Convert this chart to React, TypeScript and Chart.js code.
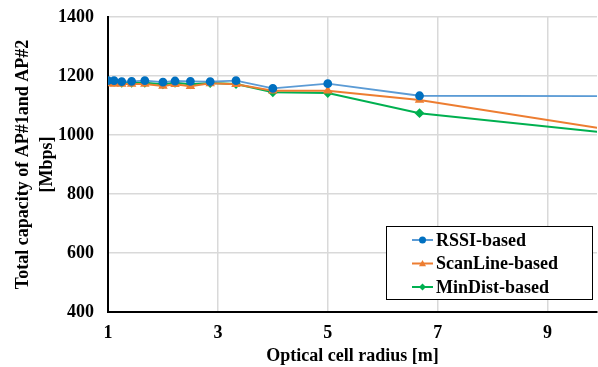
import React, { useEffect, useRef } from "react";
import { Chart, registerables } from "chart.js";

Chart.register(...registerables);

const radii = [1, 1.11, 1.25, 1.43, 1.67, 2, 2.22, 2.5, 2.86, 3.33, 4, 5, 6.67, 10];
const rssi = [1184, 1184, 1181, 1182, 1184, 1179, 1183, 1182, 1181, 1184, 1158, 1174, 1133, 1132];
const scanLine = [1175, 1173, 1173, 1173, 1173, 1166, 1172, 1165, 1175, 1172, 1150, 1150, 1119, 1022];
const minDist = [1182, 1180, 1177, 1177, 1177, 1172, 1177, 1172, 1176, 1173, 1145, 1142, 1074, 1009];
const xTicks = [1, 3, 5, 7, 9];
const seriesNames = ["RSSI-based", "ScanLine-based", "MinDist-based"];

const FONT = "'Liberation Serif', 'Times New Roman', serif";

const legendBox = {
  id: "legendBox",
  afterDraw(chart: any) {
    const { ctx, chartArea } = chart;
    const x0 = chartArea.right - 211;
    const y0 = chartArea.bottom - 86;
    const w = 206;
    const h = 73;
    ctx.save();
    ctx.fillStyle = "#ffffff";
    ctx.fillRect(x0, y0, w, h);
    ctx.strokeStyle = "#000000";
    ctx.lineWidth = 1;
    ctx.strokeRect(x0 + 0.5, y0 + 0.5, w, h);
    chart.data.datasets.forEach((ds: any, i: number) => {
      const cy = y0 + 14 + i * 23.5;
      const lx1 = x0 + 26;
      const lx2 = x0 + 47;
      ctx.strokeStyle = ds.borderColor;
      ctx.lineWidth = 2;
      ctx.beginPath();
      ctx.moveTo(lx1, cy);
      ctx.lineTo(lx2, cy);
      ctx.stroke();
      const mx = (lx1 + lx2) / 2;
      ctx.fillStyle = ds.pointBackgroundColor;
      ctx.beginPath();
      const r = 3.5;
      if (ds.pointStyle === "circle") {
        ctx.arc(mx, cy, r, 0, Math.PI * 2);
      } else if (ds.pointStyle === "triangle") {
        ctx.moveTo(mx, cy - r);
        ctx.lineTo(mx + r, cy + r * 0.8);
        ctx.lineTo(mx - r, cy + r * 0.8);
        ctx.closePath();
      } else {
        ctx.moveTo(mx, cy - r);
        ctx.lineTo(mx + r, cy);
        ctx.lineTo(mx, cy + r);
        ctx.lineTo(mx - r, cy);
        ctx.closePath();
      }
      ctx.fill();
      ctx.fillStyle = "#000000";
      ctx.font = "bold 18px " + FONT;
      ctx.textBaseline = "middle";
      ctx.textAlign = "left";
      ctx.fillText(ds.label, x0 + 50, cy + 1);
    });
    ctx.restore();
  },
};

export default function App() {
  const ref = useRef<HTMLCanvasElement | null>(null);
  useEffect(() => {
    if (!ref.current) return;
    const mk = (vals: number[]) => radii.map((x, i) => ({ x, y: vals[i] }));
    const chart = new Chart(ref.current, {
      type: "line",
      data: {
        datasets: [
          {
            label: seriesNames[0],
            data: mk(rssi),
            borderColor: "#5B9BD5",
            backgroundColor: "#0070C0",
            pointBackgroundColor: "#0070C0",
            pointBorderColor: "#0070C0",
            pointStyle: "circle",
            pointRadius: 3.5,
            borderWidth: 1.8,
          },
          {
            label: seriesNames[1],
            data: mk(scanLine),
            borderColor: "#ED7D31",
            backgroundColor: "#ED7D31",
            pointBackgroundColor: "#ED7D31",
            pointBorderColor: "#ED7D31",
            pointStyle: "triangle",
            pointRadius: 3.5,
            borderWidth: 2,
          },
          {
            label: seriesNames[2],
            data: mk(minDist),
            borderColor: "#00B050",
            backgroundColor: "#00B050",
            pointBackgroundColor: "#00B050",
            pointBorderColor: "#00B050",
            pointStyle: "rectRot",
            pointRadius: 3.5,
            borderWidth: 2,
          },
        ],
      },
      options: {
        animation: false,
        responsive: false,
        maintainAspectRatio: false,
        layout: { autoPadding: false, padding: { top: 17, right: 1, left: 0, bottom: 0 } },
        plugins: { legend: { display: false }, tooltip: { enabled: false } },
        scales: {
          x: {
            type: "linear",
            min: 1,
            max: 9.9,
            afterFit: (s: any) => {
              s.height = 55;
              s.paddingLeft = 0;
              s.paddingRight = 0;
            },
            afterBuildTicks: (s: any) => {
              s.ticks = xTicks.map((v) => ({ value: v }));
            },
            grid: { color: "#d9d9d9", lineWidth: 1.5, drawTicks: false },
            border: { color: "#000000", width: 2 },
            ticks: {
              color: "#000000",
              padding: 11,
              font: { family: FONT, size: 18, weight: "bold" },
              maxRotation: 0,
              callback: (v: any) => String(v),
            },
            title: {
              display: true,
              text: "Optical cell radius [m]",
              color: "#000000",
              padding: { top: -3, bottom: 0 },
              font: { family: FONT, size: 18, weight: "bold" },
            },
          },
          y: {
            min: 400,
            max: 1400,
            afterFit: (s: any) => {
              s.width = 108;
              s.paddingTop = 0;
              s.paddingBottom = 0;
            },
            grid: { color: "#d9d9d9", lineWidth: 1.5, drawTicks: false },
            border: { color: "#000000", width: 2 },
            ticks: {
              stepSize: 200,
              color: "#000000",
              padding: 14,
              font: { family: FONT, size: 18, weight: "bold" },
              callback: (v: any) => String(v),
            },
            title: {
              display: true,
              text: ["Total capacity of AP#1and AP#2", "[Mbps]"],
              color: "#000000",
              padding: { top: 12, bottom: 6 },
              font: { family: FONT, size: 18, weight: "bold", lineHeight: 1.3 },
            },
          },
        },
      },
      plugins: [legendBox],
    });
    return () => chart.destroy();
  }, []);
  return (
    <div style={{ position: "absolute", left: 0, top: 0, width: 598, height: 367, background: "#fff" }}>
      <canvas ref={ref} width={598} height={367} style={{ display: "block" }} />
    </div>
  );
}
